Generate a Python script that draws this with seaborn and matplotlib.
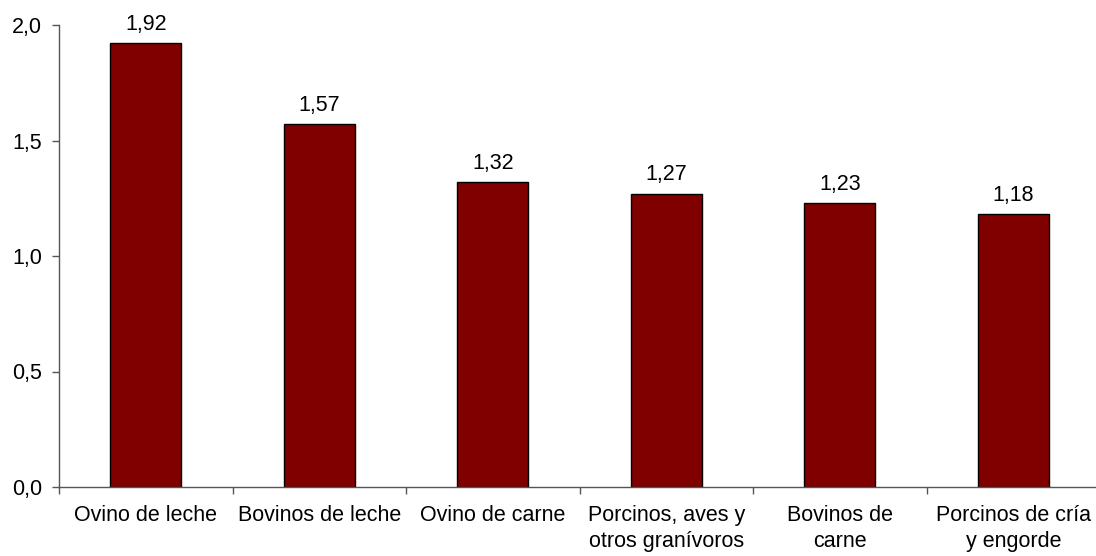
import matplotlib
matplotlib.use("Agg")
import matplotlib.pyplot as plt
import seaborn as sns
import pandas as pd
from matplotlib.ticker import FuncFormatter, FixedLocator

# Datos
categorias = ["Ovino de leche", "Bovinos de leche", "Ovino de carne",
              "Porcinos, aves y\notros granívoros", "Bovinos de\ncarne",
              "Porcinos de cría\ny engorde"]
valores = [1.92, 1.57, 1.32, 1.27, 1.23, 1.18]
y_ticks = [0.0, 0.5, 1.0, 1.5, 2.0]

sns.set_style("white")
plt.rcParams['font.family'] = ['Liberation Sans', 'DejaVu Sans']
plt.rcParams['text.color'] = 'black'
plt.rcParams['xtick.color'] = 'black'
plt.rcParams['ytick.color'] = 'black'

df = pd.DataFrame({"categoria": categorias, "valor": valores})

fig = plt.figure(figsize=(10.96, 5.56), dpi=100)
ax = fig.add_axes([59 / 1096, 69 / 556, (1096 - 59) / 1096 * 1.004, 462 / 556])

sns.barplot(data=df, x="categoria", y="valor", color="#800000",
            edgecolor="black", linewidth=1.0, width=0.41, saturation=1, ax=ax)

ax.set_ylim(0, 2.0)
ax.set_xlim(-0.5, len(categorias) - 0.5)
ax.set_yticks(y_ticks)
ax.yaxis.set_major_formatter(FuncFormatter(lambda v, p: f"{v:.1f}".replace(".", ",")))
ax.set_xlabel("")
ax.set_ylabel("")

fs = 15.5

# Etiquetas de valor
for i, v in enumerate(valores):
    ax.annotate(f"{v:.2f}".replace(".", ","), (i, v), xytext=(0, 6),
                textcoords="offset points", ha="center", va="bottom",
                fontsize=fs, color="black")

# Ejes
sns.despine(ax=ax)
for s in ["left", "bottom"]:
    ax.spines[s].set_color("#555555")
    ax.spines[s].set_linewidth(1.0)

ax.tick_params(axis="y", which="major", direction="out", length=5, width=1,
               color="#555555", labelcolor="black", labelsize=fs, pad=7, left=True)
ax.tick_params(axis="x", which="major", length=0, labelsize=fs, labelcolor="black", pad=13)
ax.xaxis.set_minor_locator(FixedLocator([i + 0.5 for i in range(-1, len(categorias) - 1)]))
ax.tick_params(axis="x", which="minor", direction="out", length=5, width=1,
               color="#555555", bottom=True)
for lbl in ax.get_xticklabels():
    lbl.set_linespacing(1.3)

fig.savefig("out.png", dpi=100)
